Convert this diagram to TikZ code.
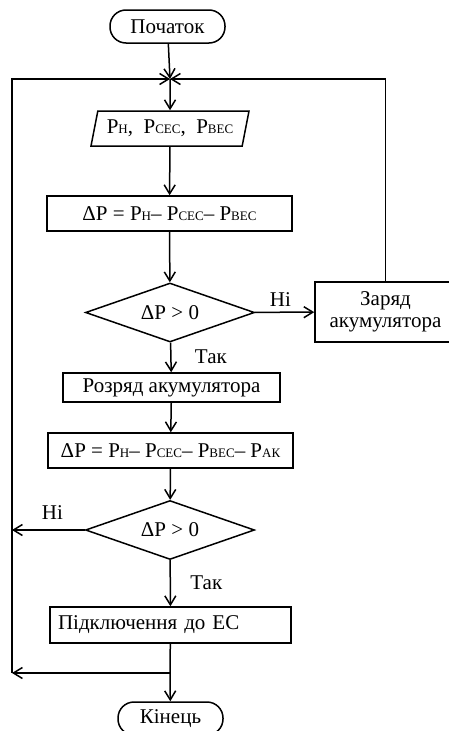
\documentclass[tikz,border=0pt]{standalone}
\usepackage{fontspec}
\setmainfont{Liberation Serif}
\usepackage{tikz}
\usetikzlibrary{shapes.geometric, arrows.meta, positioning}
\newcommand{\idx}[1]{{\fontsize{13}{13}\selectfont #1}}

\tikzset{
  every node/.style={font=\fontsize{21}{23}\selectfont},
  term/.style={draw, rounded corners=16pt, minimum height=33pt, inner sep=2pt},
  io/.style={draw, trapezium, trapezium left angle=72, trapezium right angle=108,
             trapezium stretches body, minimum width=158pt, minimum height=35pt, inner sep=2pt},
  proc/.style={draw, rectangle, minimum height=35pt, inner sep=2pt},
  decide/.style={draw, diamond, aspect=2.9, minimum width=169pt, minimum height=59pt, inner sep=0pt},
  arr/.style={-{Straight Barb[length=9pt,width=11pt]}},
}

\begin{document}
\begin{tikzpicture}[x=1pt, y=-1pt, line width=1.5pt]
  \useasboundingbox (0,0) rectangle (449,731);
  \clip (0,0) rectangle (449,731);

  % blocks
  \node[term, minimum width=115pt] (start) at (167.5,26.5) {Початок};
  \node[io] (inp) at (170,128.5) {P\idx{Н}, \ P\idx{СЕС}, \ P\idx{ВЕС}};
  \node[proc, minimum width=245pt] (calc1) at (169.5,213.5) {ΔP = P\idx{Н}– P\idx{СЕС}– P\idx{ВЕС}};
  \node[decide] (test1) at (170,312.5) {ΔP > 0};
  \node[proc, minimum width=141pt, minimum height=60pt, align=center, inner sep=1pt,
        font=\fontsize{21}{22}\selectfont] (charge) at (385.5,312) {Заряд\\акумулятора};
  \node[proc, minimum width=217pt, minimum height=29pt] (discharge) at (171.5,387.5) {Розряд акумулятора};
  \node[proc, minimum width=245pt] (calc2) at (170.5,450.5) {ΔP = P\idx{Н}– P\idx{СЕС}– P\idx{ВЕС}– P\idx{АК}};
  \node[decide] (test2) at (170,530) {ΔP > 0};
  \node[proc, text width=225pt, align=left, inner xsep=8pt, minimum height=36pt] (connect) at (170.5,625) {Підключення до ЕС};
  \node[term, minimum width=105pt] (end) at (170.5,718.5) {Кінець};

  % junctions
  \coordinate (join) at (170,79);
  \coordinate (lt) at (12,79);
  \coordinate (lb) at (12,673);
  \coordinate (rt) at (charge.north |- join);
  \coordinate (split) at (170,673);

  % flow
  \draw[arr] (start) -- (join);
  \draw[arr] (join) -- (inp);
  \draw[arr] (inp) -- (calc1);
  \draw[arr] (calc1) -- (test1);
  \draw[arr] (test1) -- node[above, xshift=-4pt, yshift=2pt]{Ні} (charge);
  \draw[arr] (charge.north) -- (rt) -- (join);
  \draw[arr] (test1) -- node[right, xshift=20pt, yshift=1pt]{Так} (discharge);
  \draw[arr] (discharge) -- (calc2);
  \draw[arr] (calc2) -- (test2);
  \draw[arr] (test2.west) -- node[above, xshift=4pt, yshift=6pt]{Ні} (test2.west -| lt);
  \draw[arr] (test2) -- node[right, xshift=16pt, yshift=1pt]{Так} (connect);
  \draw (connect) -- (split);
  \draw[arr] (split) -- (end);
  \draw[arr] (split) -- (lb);
  \draw[arr] (lb) -- (lt) -- (join);
\end{tikzpicture}
\end{document}
